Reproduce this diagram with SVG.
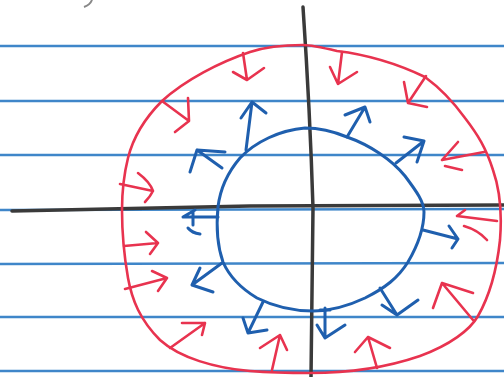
<svg xmlns="http://www.w3.org/2000/svg" width="504" height="377" viewBox="0 0 504 377">
<style>
.rule{stroke:#3f86c9;stroke-width:2.6;fill:none}
.axis{stroke:#3a3a3a;stroke-width:3.5;fill:none;stroke-linecap:round}
.red{stroke:#e8334f;stroke-width:2.6;fill:none;stroke-linecap:round;stroke-linejoin:round}
.blue{stroke:#1f5fae;stroke-width:3;fill:none;stroke-linecap:round;stroke-linejoin:round}
</style>
<rect width="504" height="377" fill="#ffffff"/>
<g id="paper">
<line class="rule" x1="0" y1="46" x2="504" y2="46"/>
<line class="rule" x1="0" y1="101" x2="504" y2="101"/>
<line class="rule" x1="0" y1="155" x2="504" y2="155"/>
<line class="rule" x1="0" y1="210" x2="504" y2="209"/>
<line class="rule" x1="0" y1="264" x2="504" y2="263"/>
<line class="rule" x1="0" y1="317" x2="504" y2="317"/>
<line class="rule" x1="0" y1="371" x2="504" y2="371"/>
<path d="M92,0 Q90,5 84,7" stroke="#888" stroke-width="2" fill="none"/>
</g>
<g id="axes">
<path class="axis" d="M303,7 Q310,110 313,208 L311,377"/>
<path class="axis" d="M12,211 L250,206 L504,205"/>
</g>
<g id="outer-loop">
<path class="red" d="M303,45 C280,45 262,48 250,52 C220,62 185,80 162,101 C145,118 133,138 128,158 C123,178 122,195 122,210 C122,235 124,255 128,278 C132,300 140,320 160,340 C180,358 215,368 250,371 C275,373 295,373 310,373 C345,373 385,368 420,356 C450,345 470,330 478,316 C490,295 497,268 500,240 C502,215 500,190 493,170 C486,148 478,135 465,118 C452,100 440,88 425,77 C400,65 370,55 337,51 C320,47 310,45 303,45 Z"/>
</g>
<g id="inner-circle">
<path class="blue" d="M305,128 C320,128 335,132 347,137 C370,145 392,160 405,176 C417,192 424,202 424,212 C424,230 418,245 408,262 C398,278 385,288 365,298 C348,306 330,311 313,311 C295,311 275,307 257,298 C242,289 230,278 223,262 C217,245 216,228 218,207 C220,190 228,172 240,158 C255,142 280,130 305,128 Z"/>
</g>
<g id="connectors">
<g id="inward-arrows">
<path class="red" d="M243,53 L247,80 M233,72 L247,80 L264,68"/>
<path class="red" d="M162,101 L189,121 M188,98 L189,121 L175,132"/>
<path class="red" d="M120,184 L153,191 M138,173 Q150,182 153,191 Q150,197 145,202"/>
<path class="red" d="M124,246 L158,243 M146,232 L158,243 L150,254"/>
<path class="red" d="M125,289 L167,278 M152,271 L167,278 L158,291"/>
<path class="red" d="M170,348 L205,323 M182,323 L205,323 L202,335"/>
<path class="red" d="M272,370 L280,335 M260,348 L280,335 L287,350"/>
<path class="red" d="M377,368 L368,337 M355,352 L368,337 L390,348"/>
<path class="red" d="M473,320 L442,283 M433,308 L442,283 L473,293"/>
<path class="red" d="M497,221 L457,216 M465,210 L457,216 M464,226 Q478,230 487,240"/>
<path class="red" d="M484,152 L442,160 M458,142 L442,160 M445,166 L462,170"/>
<path class="red" d="M426,76 L408,103 M404,82 L408,103 L427,107"/>
<path class="red" d="M342,52 L338,84 M330,67 L338,84 L357,72"/>
</g>
<g id="outward-arrows">
<path class="blue" d="M246,150 L252,102 M241,118 L252,102 L266,113"/>
<path class="blue" d="M222,168 L197,150 M225,152 L197,150 L190,172"/>
<path class="blue" d="M218,217 L183,217 M183,217 L195,210 M193,211 L193,225 M188,228 Q192,233 200,234"/>
<path class="blue" d="M222,263 L192,285 M200,268 L192,285 L213,292"/>
<path class="blue" d="M263,302 L248,333 M243,318 L248,333 L267,330"/>
<path class="blue" d="M320,310 L330,310 M325,308 L325,338 M317,325 L325,338 L345,325"/>
<path class="blue" d="M380,288 L397,315 M382,305 L397,315 L418,300"/>
<path class="blue" d="M423,230 L458,239 M449,226 L458,239 L452,248"/>
<path class="blue" d="M396,163 L424,141 M404,137 L424,141 L417,162"/>
<path class="blue" d="M347,137 L365,107 M345,115 L365,107 L370,122"/>
</g>
</g>
</svg>
